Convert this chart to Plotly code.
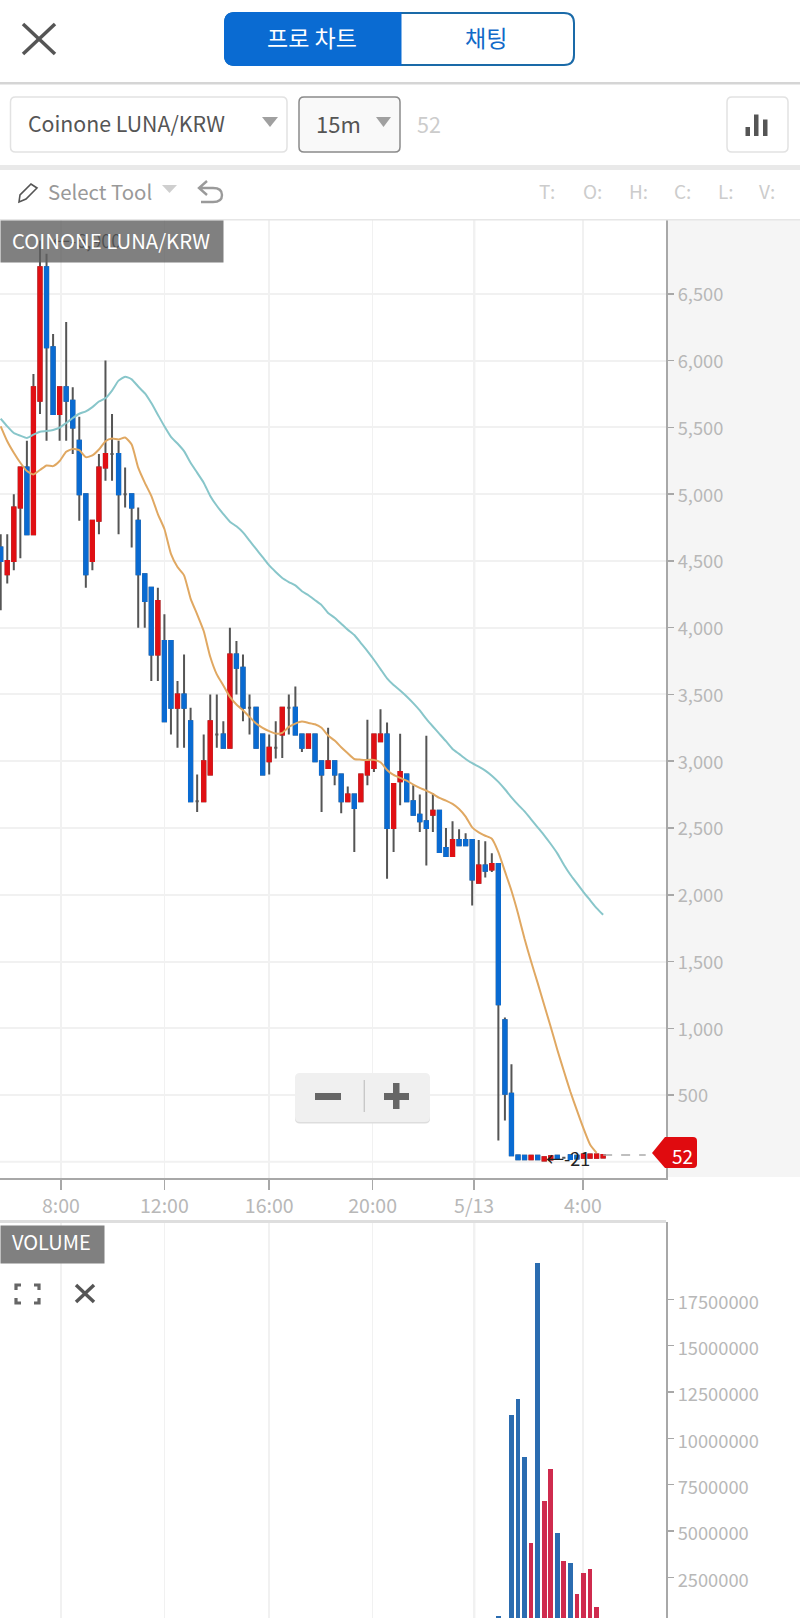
import plotly.graph_objects as go

W, H = 800, 1618

# ---------- data ----------
candle_index = list(range(93))
open_ = [4600,4400,4500,4900,5200,4700,5700,6700,6100,5600,5800,5700,5400,5000,4500,4800,5200,5300,5300,5000,
         5000,4800,4400,4300,3800,3900,3900,3400,3500,3300,2700,2700,2900,3200,3200,3100,3800,3700,3400,3400,
         3200,3000,3100,3200,3400,3400,3200,3100,3200,3000,2950,3000,2900,2700,2750,2700,2900,2950,3150,3200,
         2500,2850,2900,2700,2600,2550,2600,2630,2350,2290,2410,2410,2410,2090,2220,2190,2230,1060,510,48,
         45,20,45,10,18,45,30,50,45,30,30,30,32]
close = [4500,4500,4900,5200,4700,5800,6700,6100,5600,5800,5700,5500,5000,4400,4800,5200,5300,5300,5000,5000,
         4900,4400,4200,3800,4200,3300,3400,3500,3400,2700,2700,3000,3300,3200,3100,3800,3700,3400,3400,3100,
         2900,3100,3100,3400,3400,3200,3100,3200,3000,2900,3000,2900,2700,2750,2650,2900,3000,3200,3200,2500,
         2830,2920,2700,2600,2550,2500,2630,2320,2290,2410,2370,2370,2115,2220,2180,2230,1180,510,50,20,
         20,45,20,35,42,25,30,22,25,55,55,55,52]
high = [4700,4700,5000,5200,5400,5900,6900,6800,6200,5800,6290,5800,5580,5000,4800,5300,6000,5600,5400,5200,
        5000,4900,4400,4300,4300,4100,3900,3600,3800,3400,2900,3200,3500,3500,3300,4000,3900,3800,3500,3400,
        3200,3200,3300,3400,3500,3560,3200,3200,3200,3000,3250,3000,2900,2810,2750,2900,3310,3200,3390,3290,
        2830,3205,2900,2820,2750,3190,2760,2630,2500,2550,2490,2460,2410,2410,2400,2310,2230,1080,730,48,
        45,45,45,35,42,45,30,50,45,55,55,55,52]
low = [4130,4330,4430,4520,4700,4700,5600,5400,5600,5400,5400,5300,4800,4300,4430,4700,5100,5100,4700,4900,
       4600,4000,4000,3600,3600,3300,3200,3100,3100,2700,2620,2700,2900,3100,3100,3100,3500,3300,3200,3100,
       2900,2900,3020,3025,3200,3200,3070,3100,3000,2620,2950,2820,2610,2700,2320,2700,2820,2920,3150,2120,
       2320,2670,2700,2600,2470,2220,2470,2320,2290,2290,2370,2370,1920,2090,2130,2170,160,310,50,20,
       20,20,20,10,21,25,30,22,25,30,30,30,32]

ma_slow = [5565,5508,5458,5438,5421,5446,5468,5473,5481,5498,5533,5570,5602,5620,5652,5694,5719,5776,5850,5880,
           5860,5806,5756,5682,5595,5508,5429,5379,5322,5235,5161,5086,4987,4913,4851,4794,4759,4714,4652,4590,
           4528,4466,4417,4372,4342,4317,4273,4243,4206,4169,4110,4075,4030,3985,3945,3885,3825,3760,3690,3620,
           3570,3530,3485,3435,3380,3317,3260,3205,3150,3092,3055,3017,2985,2960,2930,2892,2845,2790,2730,2675,
           2625,2565,2505,2445,2380,2310,2225,2150,2085,2020,1960,1900,1850]
ma_fast = [5508,5396,5310,5235,5173,5148,5181,5215,5210,5248,5317,5339,5329,5277,5290,5334,5396,5416,5409,5424,
           5372,5198,5086,4987,4851,4739,4553,4454,4392,4218,4100,3975,3782,3650,3567,3482,3425,3382,3332,3282,
           3250,3225,3207,3212,3257,3282,3297,3287,3277,3250,3192,3155,3105,3060,3017,3012,3010,3010,2992,2935,
           2897,2875,2855,2825,2800,2780,2755,2725,2705,2680,2642,2585,2505,2467,2442,2420,2320,2175,2030,1860,
           1670,1500,1340,1175,1010,840,680,525,385,250,130,67]

volume_index = [76,78,79,80,81,82,83,84,85,86,87,88,89,90,91]
volume = [430000,11260000,12110000,8980000,4340000,19460000,6640000,8330000,4880000,3380000,3290000,1600000,2750000,2950000,880000]
volume_side = ["d","d","d","d","u","d","u","u","d","u","d","u","u","u","u"]

time_positions = [9.2, 25.0, 41.0, 56.8, 72.3, 88.9]
time_labels = ["8:00", "12:00", "16:00", "20:00", "5/13", "4:00"]
price_ticks = [500,1000,1500,2000,2500,3000,3500,4000,4500,5000,5500,6000,6500]
price_labels = ["500","1,000","1,500","2,000","2,500","3,000","3,500","4,000","4,500","5,000","5,500","6,000","6,500"]
volume_ticks = [2500000,5000000,7500000,10000000,12500000,15000000,17500000]
last_price = 52

# ---------- style ----------
FONT = "Noto Sans CJK KR"
RED, BLUE, WICK = "#e01014", "#0a6bd2", "#555555"
TICK = "#b8b8b8"
GRID = "#f1f1f1"
AXIS = "#a8a8a8"

def px(x): return x / W
def py(y): return 1 - y / H

def shape_rect(x0, y0, x1, y1, fill, line=None, lw=0, layer="above"):
    return dict(type="rect", xref="paper", yref="paper", x0=px(x0), x1=px(x1), y0=py(y0), y1=py(y1),
                fillcolor=fill, line=dict(color=line or fill, width=lw), layer=layer)

def _(x, y):
    return f"{px(x):.5f} {py(y):.5f}"

def round_rect(x0, y0, x1, y1, r, fill, line=None, lw=0, layer="above"):
    path = ("M{} L{} Q{} {} L{} Q{} {} L{} Q{} {} L{} Q{} {} Z").format(
        _(x0+r,y0), _(x1-r,y0), _(x1,y0), _(x1,y0+r), _(x1,y1-r), _(x1,y1), _(x1-r,y1),
        _(x0+r,y1), _(x0,y1), _(x0,y1-r), _(x0,y0+r), _(x0,y0), _(x0+r,y0))
    return dict(type="path", xref="paper", yref="paper", path=path, fillcolor=fill,
                line=dict(color=line or fill, width=lw), layer=layer)

def poly(points, fill=None, line=None, lw=0, closed=False, layer="above"):
    path = "M" + " L".join(_(x, y) for x, y in points) + (" Z" if closed else "")
    return dict(type="path", xref="paper", yref="paper", path=path,
                fillcolor=fill if fill else "rgba(0,0,0,0)",
                line=dict(color=line or "rgba(0,0,0,0)", width=lw), layer=layer)

def text(x, y, s, size, color, anchor="center"):
    return dict(x=px(x), y=py(y), xref="paper", yref="paper", text=s, showarrow=False,
                xanchor=anchor, yanchor="middle", font=dict(family=FONT, size=size, color=color), borderpad=0)

fig = go.Figure()

# wicks and dash-like dojis
fig.add_trace(go.Candlestick(
    x=candle_index, open=open_, high=high, low=low, close=close,
    increasing=dict(line=dict(color=WICK, width=2), fillcolor=WICK),
    decreasing=dict(line=dict(color=WICK, width=2), fillcolor=WICK),
    whiskerwidth=0, hoverinfo="skip", showlegend=False, xaxis="x", yaxis="y"))

# coloured bodies
body_x = [i for i, o, c in zip(candle_index, open_, close) if o != c]
body_o = [o for o, c in zip(open_, close) if o != c]
body_c = [c for o, c in zip(open_, close) if o != c]
body_hi = [max(o, c) for o, c in zip(body_o, body_c)]
body_lo = [min(o, c) for o, c in zip(body_o, body_c)]
fig.add_trace(go.Candlestick(
    x=body_x, open=body_o, high=body_hi, low=body_lo, close=body_c,
    increasing=dict(line=dict(color=RED, width=2), fillcolor=RED),
    decreasing=dict(line=dict(color=BLUE, width=2), fillcolor=BLUE),
    whiskerwidth=0, hoverinfo="skip", showlegend=False, xaxis="x", yaxis="y"))

fig.add_trace(go.Scatter(x=candle_index[:len(ma_slow)], y=ma_slow, mode="lines",
                         line=dict(color="#88c6ca", width=2, shape="spline", smoothing=0.5), hoverinfo="skip", showlegend=False))
fig.add_trace(go.Scatter(x=candle_index[:len(ma_fast)], y=ma_fast, mode="lines",
                         line=dict(color="#e0a862", width=2, shape="spline", smoothing=0.5), hoverinfo="skip", showlegend=False))

fig.add_trace(go.Bar(x=volume_index, y=volume, width=0.72,
                     marker=dict(color=["#2b6cb0" if s == "d" else "#cf2b4e" for s in volume_side], line=dict(width=0)),
                     hoverinfo="skip", showlegend=False, xaxis="x2", yaxis="y2"))

PLOT_R = 666
TOP1, BOT1 = 220, 1178
TOP2 = 1222

shapes = []
shapes.append(shape_rect(PLOT_R, TOP1, W, 1177, "#f5f5f5", layer="below"))
shapes.append(dict(type="line", xref="x domain", yref="y", x0=0, x1=1, y0=0, y1=0,
                   line=dict(color=GRID, width=2), layer="below"))
shapes.append(dict(type="line", xref="x", yref="y domain", x0=time_positions[4], x1=time_positions[4], y0=0, y1=1,
                   line=dict(color="#d4d4d4", width=2), layer="below"))
shapes.append(dict(type="line", xref="x2", yref="y2 domain", x0=time_positions[4], x1=time_positions[4], y0=0, y1=1,
                   line=dict(color="#d4d4d4", width=2), layer="below"))
shapes.append(dict(type="line", xref="x", yref="y", x0=candle_index[-1], x1=98.5, y0=last_price, y1=last_price,
                   line=dict(color="#aaaaaa", width=1.5, dash="9px,9px"), layer="above"))
shapes.append(shape_rect(0, TOP2 - 2, PLOT_R, TOP2 + 1, "#dedede"))

# last price tag
shapes.append(dict(type="path", xref="paper", yref="paper",
                   path="M{} L{} L{} Q{} {} L{} Q{} {} L{} Z".format(
                       _(652, 1153), _(665, 1137), _(693, 1137), _(697, 1137), _(697, 1141),
                       _(697, 1164), _(697, 1168), _(693, 1168), _(665, 1168)),
                   fillcolor="#e00b0f", line=dict(color="#e00b0f", width=0), layer="above"))

# header
shapes.append(poly([(23, 24), (55, 54)], line="#555555", lw=3.5))
shapes.append(poly([(55, 24), (23, 54)], line="#555555", lw=3.5))
shapes.append(round_rect(225, 13, 574, 65, 10, "#ffffff", "#1a6aa8", 2))
shapes.append(dict(type="path", xref="paper", yref="paper",
                   path="M{} L{} L{} L{} Q{} {} L{} Q{} {} Z".format(
                       _(235, 12), _(401.5, 12), _(401.5, 66), _(235, 66), _(224, 66), _(224, 55),
                       _(224, 23), _(224, 12), _(235, 12)),
                   fillcolor="#0a6bd2", line=dict(width=0), layer="above"))
shapes.append(shape_rect(0, 82, W, 84.5, "#d5d5d5"))
shapes.append(round_rect(10.5, 97, 287, 152, 5, "#ffffff", "#e2e2e2", 1.5))
shapes.append(poly([(262, 117), (278, 117), (270, 127)], fill="#a0a0a0", closed=True))
shapes.append(round_rect(299, 97, 400, 152, 5, "#f9f9f9", "#8a8a8a", 1.5))
shapes.append(poly([(376, 117), (391, 117), (383.5, 127)], fill="#a0a0a0", closed=True))
shapes.append(round_rect(727, 97, 788, 152, 5, "#ffffff", "#e2e2e2", 1.5))
shapes.append(shape_rect(745.5, 127, 750, 136, "#555555"))
shapes.append(shape_rect(754, 114.5, 758.5, 136, "#555555"))
shapes.append(shape_rect(763, 119.5, 767.5, 136, "#555555"))
shapes.append(shape_rect(0, 165, W, 170, "#e9e9e9"))
# toolbar
shapes.append(poly([(19, 202), (20, 195), (31, 184), (37, 188), (26, 199)], line="#555555", lw=1.6, closed=True))
shapes.append(poly([(162, 185), (177, 185), (169.5, 193)], fill="#cfcfcf", closed=True))
shapes.append(dict(type="path", xref="paper", yref="paper",
                   path="M{} L{} L{} M{} L{} Q{} {} Q{} {} L{}".format(
                       _(207, 181), _(199, 188), _(207, 195), _(199, 188), _(213, 188),
                       _(222, 188), _(222, 195), _(222, 202), _(213, 202), _(201, 202)),
                   fillcolor="rgba(0,0,0,0)", line=dict(color="#9a9a9a", width=2.4), layer="above"))
shapes.append(shape_rect(0, 219, W, 220.5, "#e6e6e6"))

# zoom buttons
shapes.append(round_rect(295, 1075, 430, 1123.5, 5, "#dddddd"))
shapes.append(round_rect(295, 1073, 430, 1122, 5, "#f0f0f0"))
shapes.append(shape_rect(315, 1093, 341, 1100, "#666666"))
shapes.append(shape_rect(363.6, 1080, 365, 1112, "#c8c8c8"))
shapes.append(shape_rect(384, 1093, 409, 1100, "#666666"))
shapes.append(shape_rect(393, 1083, 399.5, 1109, "#666666"))

# volume panel icons
for x0, x1 in [(16, 21), (39, 34)]:
    for y0, y1 in [(1285, 1290), (1303, 1298)]:
        shapes.append(poly([(x1, y0), (x0, y0), (x0, y1)], line="#666666", lw=3.2))
shapes.append(poly([(76, 1285), (94, 1302)], line="#555555", lw=3.4))
shapes.append(poly([(94, 1285), (76, 1302)], line="#555555", lw=3.4))

annotations = [
    text(312, 37, "프로 차트", 23, "#ffffff"),
    text(486, 37, "채팅", 23, "#1169c8"),
    text(27, 123, "Coinone LUNA/KRW", 21.3, "#555555", "left"),
    text(315, 123, "15m", 22, "#555555", "left"),
    text(416, 124, "52", 21.5, "#cccccc", "left"),
    text(46.5, 191, "Select Tool", 20.4, "#999999", "left"),
]
for cx, s in zip([547, 592, 638, 682, 725.5, 767], ["T:", "O:", "H:", "C:", "L:", "V:"]):
    annotations.append(text(cx, 190, s, 19, "#cccccc"))
annotations.append(text(51, 240, "←-6,900", 18, "#111111", "left"))
annotations.append(dict(x=0, y=py(220), xref="paper", yref="paper", xanchor="left", yanchor="top",
                        width=222, height=41, showarrow=False, text=" ",
                        bgcolor="rgba(96,96,96,0.8)", borderpad=0))
annotations.append(text(111, 239.5, "COINONE LUNA/KRW", 20.3, "#ffffff"))
annotations.append(dict(x=0, y=py(1225), xref="paper", yref="paper", xanchor="left", yanchor="top",
                        width=103, height=37, showarrow=False, text=" ",
                        bgcolor="#808080", borderpad=0))
annotations.append(text(51.5, 1241, "VOLUME", 20, "#ffffff"))
annotations.append(text(545, 1158, "←-21", 18, "#222222", "left"))
annotations.append(text(682, 1155, "52", 19, "#ffffff"))

fig.update_layout(
    width=W, height=H, autosize=False,
    margin=dict(l=0, r=0, t=0, b=0, pad=0),
    paper_bgcolor="#ffffff", plot_bgcolor="#ffffff",
    showlegend=False, boxmode="overlay", boxgap=0.3, bargap=0, barmode="overlay",
    font=dict(family=FONT, size=18, color=TICK),
    shapes=shapes, annotations=annotations,
    xaxis=dict(domain=[0, px(PLOT_R)], range=[-0.107, 101.6], anchor="y",
               tickmode="array", tickvals=time_positions, ticktext=time_labels,
               ticks="outside", ticklen=10, tickwidth=1.5, tickcolor=AXIS,
               tickfont=dict(family=FONT, size=19.5, color=TICK),
               showgrid=True, gridcolor=GRID, gridwidth=1.5, zeroline=False,
               showline=True, linecolor=AXIS, linewidth=2, rangeslider=dict(visible=False), fixedrange=True),
    yaxis=dict(domain=[py(BOT1), py(TOP1)], range=[-121, 7053], anchor="x", side="right",
               tickmode="array", tickvals=price_ticks, ticktext=price_labels,
               ticks="outside", ticklen=6, tickwidth=1.5, tickcolor=AXIS,
               tickfont=dict(family=FONT, size=18.3, color=TICK), ticklabelshift=1,
               showgrid=True, gridcolor=GRID, gridwidth=2, zeroline=False,
               showline=True, linecolor=AXIS, linewidth=2, fixedrange=True),
    xaxis2=dict(domain=[0, px(PLOT_R)], matches="x", anchor="y2",
                tickmode="array", tickvals=time_positions, ticktext=time_labels,
                showticklabels=False, ticks="", showgrid=True, gridcolor=GRID, gridwidth=1.5,
                zeroline=False, showline=False, rangeslider=dict(visible=False), fixedrange=True),
    yaxis2=dict(domain=[0, py(TOP2)], range=[302000, 21680000], anchor="x2", side="right",
                tickmode="array", tickvals=volume_ticks, ticktext=[str(v) for v in volume_ticks],
                ticks="outside", ticklen=6, tickwidth=1.5, tickcolor=AXIS,
                tickfont=dict(family=FONT, size=18.3, color=TICK), ticklabelshift=3,
                showgrid=False, zeroline=False, showline=True, linecolor=AXIS, linewidth=2, fixedrange=True),
)

fig.write_html("out.html", config=dict(displayModeBar=False, staticPlot=True),
               post_script="document.body.style.margin='0';document.body.style.overflow='hidden';")
